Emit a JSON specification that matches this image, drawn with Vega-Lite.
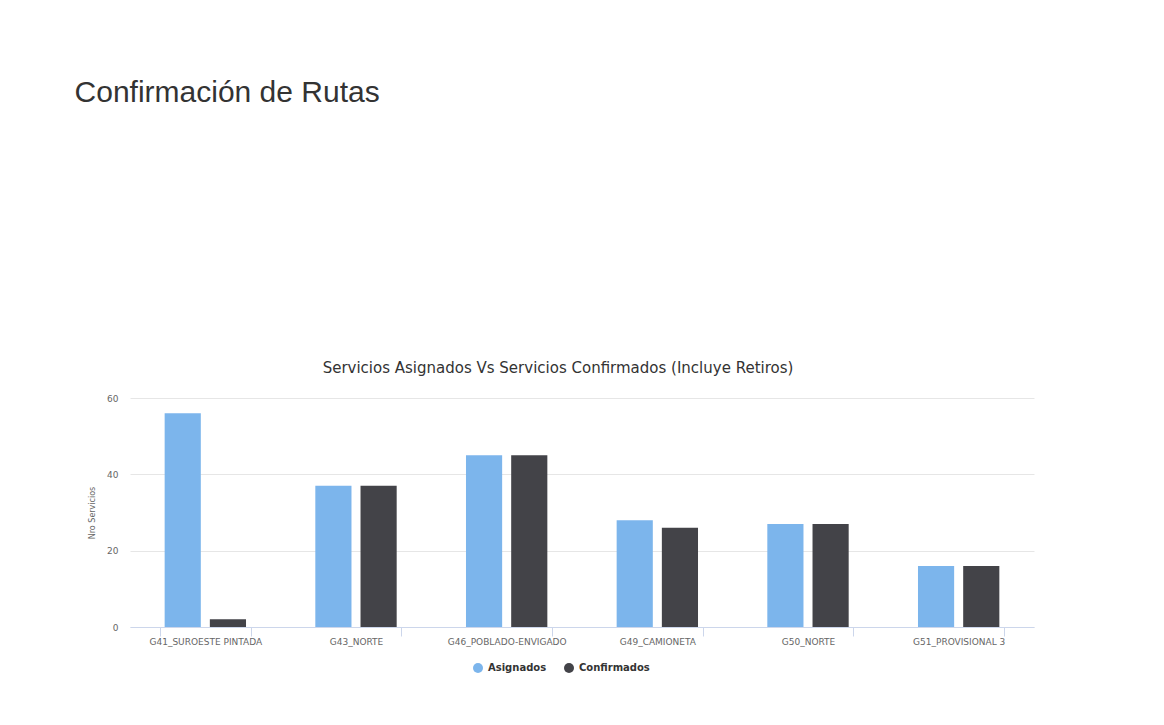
{
  "$schema": "https://vega.github.io/schema/vega-lite/v6.json",
  "background": "white",
  "padding": {"left": 74, "top": 78, "right": 10, "bottom": 10},
  "title": {
    "text": "Confirmación de Rutas",
    "anchor": "start",
    "fontSize": 30,
    "font": "Liberation Sans",
    "fontWeight": "normal",
    "color": "#333333",
    "offset": 253,
    "dx": -14
  },
  "vconcat": [
    {
      "width": 904,
      "height": 229,
      "title": {
        "text": "Servicios Asignados Vs Servicios Confirmados (Incluye Retiros)",
        "fontSize": 15,
        "font": "DejaVu Sans",
        "fontWeight": "normal",
        "color": "#333333",
        "offset": 18,
        "anchor": "middle",
        "dx": -24
      },
      "data": {
        "values": [
          {"ruta": "G41_SUROESTE PINTADA", "serie": "Asignados", "valor": 56},
          {"ruta": "G41_SUROESTE PINTADA", "serie": "Confirmados", "valor": 2},
          {"ruta": "G43_NORTE", "serie": "Asignados", "valor": 37},
          {"ruta": "G43_NORTE", "serie": "Confirmados", "valor": 37},
          {"ruta": "G46_POBLADO-ENVIGADO", "serie": "Asignados", "valor": 45},
          {"ruta": "G46_POBLADO-ENVIGADO", "serie": "Confirmados", "valor": 45},
          {"ruta": "G49_CAMIONETA", "serie": "Asignados", "valor": 28},
          {"ruta": "G49_CAMIONETA", "serie": "Confirmados", "valor": 26},
          {"ruta": "G50_NORTE", "serie": "Asignados", "valor": 27},
          {"ruta": "G50_NORTE", "serie": "Confirmados", "valor": 27},
          {"ruta": "G51_PROVISIONAL 3", "serie": "Asignados", "valor": 16},
          {"ruta": "G51_PROVISIONAL 3", "serie": "Confirmados", "valor": 16}
        ]
      },
      "mark": {"type": "bar"},
      "encoding": {
        "x": {
          "field": "ruta",
          "type": "nominal",
          "sort": null,
          "scale": {"paddingInner": 0.4, "paddingOuter": 0.2},
          "axis": {
            "title": null,
            "labelAngle": 0,
            "labelFontSize": 9,
            "labelFont": "DejaVu Sans",
            "labelColor": "#666666",
            "domainColor": "#ccd6eb",
            "tickColor": "#ccd6eb",
            "tickSize": 9,
            "tickBand": "extent",
            "labelPadding": 1,
            "grid": false
          }
        },
        "xOffset": {
          "field": "serie",
          "type": "nominal",
          "sort": ["Asignados", "Confirmados"],
          "scale": {"paddingInner": 0.2, "paddingOuter": 0.1}
        },
        "y": {
          "field": "valor",
          "type": "quantitative",
          "scale": {"domain": [0, 60]},
          "axis": {
            "values": [0, 20, 40, 60],
            "title": "Nro Servicios",
            "titleFontSize": 8,
            "titleFont": "DejaVu Sans",
            "titleFontWeight": "normal",
            "titleColor": "#666666",
            "titlePadding": 10,
            "labelFontSize": 9,
            "labelFont": "DejaVu Sans",
            "labelColor": "#666666",
            "labelPadding": 12,
            "domain": false,
            "ticks": false,
            "gridColor": "#e6e6e6"
          }
        },
        "color": {
          "field": "serie",
          "type": "nominal",
          "scale": {"domain": ["Asignados", "Confirmados"], "range": ["#7cb5ec", "#434348"]},
          "legend": {
            "title": null,
            "orient": "none",
            "legendX": 342,
            "legendY": 264,
            "direction": "horizontal",
            "symbolType": "circle",
            "symbolSize": 100,
            "symbolOpacity": 1,
            "labelFontSize": 10,
            "labelFont": "DejaVu Sans",
            "labelFontWeight": "bold",
            "labelColor": "#333333",
            "columnPadding": 16
          }
        }
      }
    }
  ],
  "config": {"view": {"stroke": null}}
}
